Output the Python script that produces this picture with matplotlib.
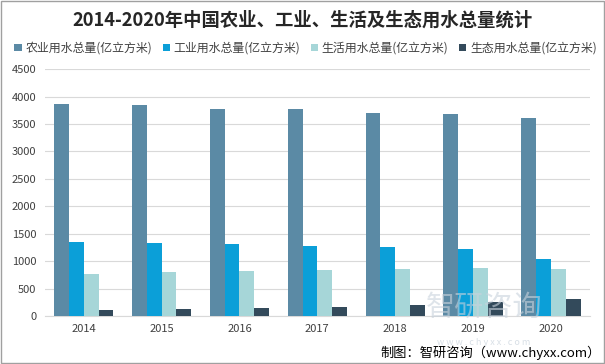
import numpy as np
import matplotlib.pyplot as plt

plt.rcParams['font.family'] = ['Noto Sans CJK SC', 'DejaVu Sans']

years = ["2014", "2015", "2016", "2017", "2018", "2019", "2020"]
agri = [3869, 3852, 3768, 3766, 3693, 3682, 3612]
indus = [1356, 1335, 1308, 1277, 1262, 1218, 1030]
domestic = [767, 793, 822, 838, 860, 872, 863]
eco = [103, 123, 143, 162, 201, 250, 307]

series = [
    ("农业用水总量(亿立方米)", agri, "#5b8aa5"),
    ("工业用水总量(亿立方米)", indus, "#0b9fd8"),
    ("生活用水总量(亿立方米)", domestic, "#a6d6d8"),
    ("生态用水总量(亿立方米)", eco, "#334a5b"),
]

fig = plt.figure(figsize=(6.05, 3.64), dpi=100)
ax = fig.add_axes([0.074, 0.132, 0.901, 0.678])

x = np.arange(len(years))
w = 0.19
for i, (name, vals, c) in enumerate(series):
    ax.bar(x + (i - 1.5) * w, vals, width=w, color=c, label=name, zorder=3)

ax.set_xlim(-0.5, len(years) - 0.5)
ax.set_ylim(0, 4500)
ax.set_yticks(np.arange(0, 4501, 500))
ax.set_xticks(x)
ax.set_xticklabels(years)
ax.tick_params(length=0, labelsize=8, colors="#404040", pad=6)
ax.grid(axis="y", color="#d9d9d9", linewidth=0.8, zorder=0)
for s in ["top", "right", "left"]:
    ax.spines[s].set_visible(False)
ax.spines["bottom"].set_color("#d9d9d9")

fig.text(0.5, 0.945, "2014-2020年中国农业、工业、生活及生态用水总量统计",
         ha="center", va="center", fontsize=13.2, fontweight="bold", color="#262626")
fig.legend(loc="center", bbox_to_anchor=(0.505, 0.868), ncol=4, frameon=False,
           fontsize=8.6, handlelength=0.6, handleheight=0.6, handletextpad=0.3,
           columnspacing=0.9, labelcolor="#404040")

# watermark
fig.text(0.80, 0.155, "智研咨询", ha="center", va="center", fontsize=21,
         color="#c8d2dc", alpha=0.6, zorder=0)
fig.text(0.80, 0.058, "w w w . c h y x x . c o m", ha="center", va="center",
         fontsize=6.5, color="#c8d2dc", alpha=0.7)
fig.text(0.993, 0.03, "制图：智研咨询（www.chyxx.com）", ha="right", va="center",
         fontsize=9.5, color="#000000")

fig.patches.append(plt.Rectangle((0.002, 0.003), 0.996, 0.994, transform=fig.transFigure,
                                 fill=False, edgecolor="#a0a0a0", linewidth=1))

fig.savefig("out.png", dpi=100)
